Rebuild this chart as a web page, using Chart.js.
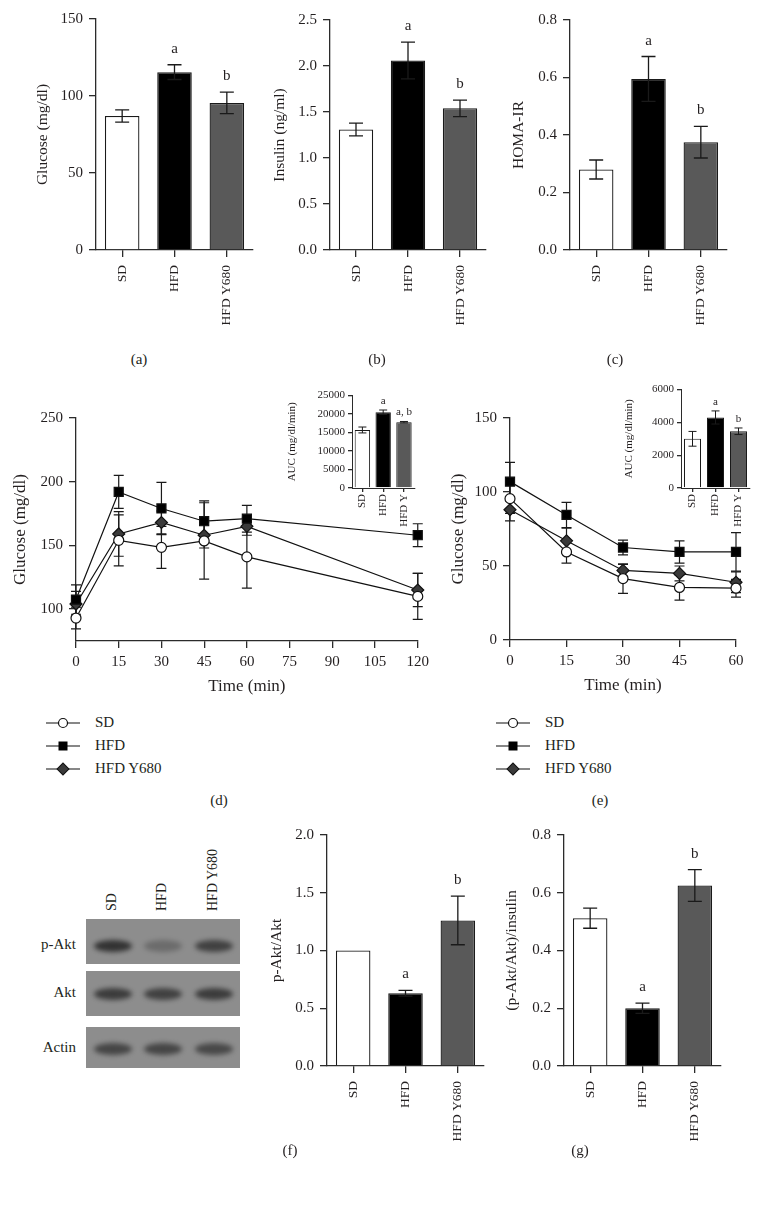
<!DOCTYPE html>
<html>
<head>
<meta charset="utf-8">
<script src="https://cdn.jsdelivr.net/npm/chart.js@4.4.1/dist/chart.umd.min.js"></script>
<style>
  body { margin: 0; background: #fff; width: 759px; height: 1208px; position: relative; overflow: hidden;
         font-family: "Liberation Serif", "DejaVu Serif", serif; color: #231f20; }
  canvas { position: absolute; }
  .plabel { position: absolute; font-size: 15px; transform: translate(-50%, -50%); white-space: nowrap; }
  .legend { position: absolute; font-size: 15px; }
  .legend .row { height: 23px; display: flex; align-items: center; }
  .legend svg { margin-right: 15px; }
  .blot { position: absolute; background: #8d8d8d; overflow: hidden; }
  .band { position: absolute; border-radius: 50%; background: #2e2e2e; filter: blur(2.5px); }
  .rowlab { position: absolute; font-size: 15px; transform: translate(-100%, -50%); white-space: nowrap; }
  .collab { position: absolute; font-size: 14px; transform-origin: 0 0; transform: rotate(-90deg); white-space: nowrap; }
</style>
</head>
<body>
<canvas id="chartA"></canvas>
<canvas id="chartB"></canvas>
<canvas id="chartC"></canvas>
<canvas id="chartD"></canvas>
<canvas id="chartE"></canvas>
<canvas id="insetD"></canvas>
<canvas id="insetE"></canvas>
<canvas id="chartF"></canvas>
<canvas id="chartG"></canvas>

<div class="plabel" style="left:139px;top:359px">(a)</div>
<div class="plabel" style="left:377px;top:359px">(b)</div>
<div class="plabel" style="left:615px;top:359px">(c)</div>
<div class="plabel" style="left:219px;top:800px">(d)</div>
<div class="plabel" style="left:600px;top:800px">(e)</div>
<div class="plabel" style="left:290px;top:1150px">(f)</div>
<div class="plabel" style="left:580px;top:1150px">(g)</div>

<div id="legendD" class="legend" style="left:46px;top:711px"></div>
<div id="legendE" class="legend" style="left:496px;top:711px"></div>
<div id="blot"></div>

<script>
// groups and values
const groups = ['SD', 'HFD', 'HFD Y680'];
const aucGroups = ['SD', 'HFD', 'HFD Y'];
const barColors = ['#ffffff', '#000000', '#595959'];

const glucoseMean = [87, 115.5, 95.5];
const glucoseErr = [4, 4.8, 7];
const glucoseMarks = ['', 'a', 'b'];
const glucoseTicks = [0, 50, 100, 150];

const insulinMean = [1.31, 2.06, 1.54];
const insulinErr = [0.07, 0.2, 0.09];
const insulinMarks = ['', 'a', 'b'];
const insulinTicks = [0, 0.5, 1.0, 1.5, 2.0, 2.5];

const homaMean = [0.28, 0.595, 0.375];
const homaErr = [0.033, 0.078, 0.055];
const homaMarks = ['', 'a', 'b'];
const homaTicks = [0, 0.2, 0.4, 0.6, 0.8];

// OGTT (d)
const ogttTime = [0, 15, 30, 45, 60, 120];
const ogttSD = [93, 154, 148.5, 153.5, 141, 110];
const ogttSDErr = [8.5, 20, 16.5, 30, 24.5, 18];
const ogttHFD = [107.5, 192, 179, 169, 171, 158];
const ogttHFDErr = [11.5, 13, 20.5, 16, 10.5, 9];
const ogttY680 = [104, 159, 168, 158, 165, 115];
const ogttY680Err = [10, 17.5, 9, 10, 7, 13];
const ogttYTicks = [100, 150, 200, 250];
const ogttXTicks = [0, 15, 30, 45, 60, 75, 90, 105, 120];
const ogttAuc = [15700, 20500, 17800];
const ogttAucErr = [800, 600, 200];
const ogttAucMarks = ['', 'a', 'a, b'];
const ogttAucTicks = [0, 5000, 10000, 15000, 20000, 25000];

// ITT (e)
const ittTime = [0, 15, 30, 45, 60];
const ittSD = [95.5, 59.5, 41.5, 35.5, 35];
const ittSDErr = [10, 7.5, 10, 8.5, 6];
const ittHFD = [107, 84.5, 62.5, 59.5, 59.5];
const ittHFDErr = [13, 8.5, 5, 7.5, 13];
const ittY680 = [88, 67, 47, 45, 39];
const ittY680Err = [7.5, 8.5, 4, 5, 7];
const ittYTicks = [0, 50, 100, 150];
const ittXTicks = [0, 15, 30, 45, 60];
const ittAuc = [3000, 4300, 3460];
const ittAucErr = [450, 400, 200];
const ittAucMarks = ['', 'a', 'b'];
const ittAucTicks = [0, 2000, 4000, 6000];

// western blot quantification (f), (g)
const pAktMean = [1.0, 0.63, 1.26];
const pAktErr = [0, 0.025, 0.21];
const pAktMarks = ['', 'a', 'b'];
const pAktTicks = [0, 0.5, 1.0, 1.5, 2.0];
const pAktInsMean = [0.512, 0.2, 0.625];
const pAktInsErr = [0.035, 0.018, 0.055];
const pAktInsMarks = ['', 'a', 'b'];
const pAktInsTicks = [0, 0.2, 0.4, 0.6, 0.8];

const blotRows = ['p-Akt', 'Akt', 'Actin'];
const blotIntensity = [[0.95, 0.35, 0.8], [0.85, 0.8, 0.85], [0.75, 0.75, 0.72]];

const AXIS = '#2b2b2b';
const FONT = 'Liberation Serif';
const TEXT = '#231f20';

// error bars + letters drawn with the chart's own y scale
const errorBars = {
  id: 'errorBars',
  beforeDatasetsDraw(chart, args, opts) {
    if (opts.layer === 'before') drawErrors(chart, opts);
  },
  afterDatasetsDraw(chart, args, opts) {
    if (opts.layer !== 'before') drawErrors(chart, opts);
    drawMarks(chart, opts);
  }
};

function valueOf(d) { return typeof d === 'object' ? d.y : d; }

function drawErrors(chart, opts) {
  const ctx = chart.ctx, ys = chart.scales.y;
  ctx.save();
  ctx.strokeStyle = opts.color || '#1a1a1a';
  ctx.lineWidth = opts.width || 1.3;
  chart.data.datasets.forEach((ds, di) => {
    if (!ds.err) return;
    chart.getDatasetMeta(di).data.forEach((el, i) => {
      const e = ds.err[i];
      if (!e) return;
      const v = valueOf(ds.data[i]);
      const y1 = ys.getPixelForValue(v + e), y2 = ys.getPixelForValue(v - e);
      const c = opts.cap;
      ctx.beginPath();
      ctx.moveTo(el.x, y1); ctx.lineTo(el.x, y2);
      ctx.moveTo(el.x - c, y1); ctx.lineTo(el.x + c, y1);
      ctx.moveTo(el.x - c, y2); ctx.lineTo(el.x + c, y2);
      ctx.stroke();
    });
  });
  ctx.restore();
}

function drawMarks(chart, opts) {
  const ctx = chart.ctx, ys = chart.scales.y;
  ctx.save();
  ctx.fillStyle = TEXT;
  ctx.font = (opts.markSize || 15) + 'px "' + FONT + '"';
  ctx.textAlign = 'center';
  ctx.textBaseline = 'alphabetic';
  chart.data.datasets.forEach((ds, di) => {
    if (!ds.marks) return;
    chart.getDatasetMeta(di).data.forEach((el, i) => {
      if (!ds.marks[i]) return;
      const v = valueOf(ds.data[i]) + (ds.err ? ds.err[i] : 0);
      ctx.fillText(ds.marks[i], el.x, ys.getPixelForValue(v) - opts.markGap);
    });
  });
  ctx.restore();
}

function place(id, box) {
  const c = document.getElementById(id);
  const left = Math.round(box.left - box.yW);
  const top = Math.round(box.top - box.padT);
  const right = Math.round(box.right + box.padR);
  const bottom = Math.round(box.bottom + box.xH);
  c.width = right - left;
  c.height = bottom - top;
  c.style.left = left + 'px';
  c.style.top = top + 'px';
  return {
    canvas: c,
    yW: Math.round(box.left) - left,
    padT: Math.round(box.top) - top,
    padR: right - Math.round(box.right),
    xH: bottom - Math.round(box.bottom)
  };
}

function axisGrid(len) {
  return { display: true, drawOnChartArea: false, drawTicks: true, tickLength: len, color: AXIS, lineWidth: 1.3 };
}

function barChart(id, box, cfg) {
  const p = place(id, box);
  const s = cfg.small;
  const tickSize = s ? 11 : 15;
  new Chart(p.canvas, {
    type: 'bar',
    data: {
      labels: cfg.labels,
      datasets: [{
        data: cfg.mean,
        err: cfg.err,
        marks: cfg.marks,
        backgroundColor: barColors,
        borderColor: '#1a1a1a',
        borderWidth: s ? 1 : 1.3,
        barPercentage: s ? 0.74 : 0.66,
        categoryPercentage: 1
      }]
    },
    options: {
      responsive: false,
      animation: false,
      devicePixelRatio: 1,
      layout: { padding: { left: 0, top: p.padT, right: p.padR, bottom: 0 } },
      plugins: {
        legend: { display: false },
        tooltip: { enabled: false },
        errorBars: { cap: s ? 4 : 7, width: s ? 1 : 1.3, markGap: s ? 6 : 12, markSize: s ? 11 : 15 }
      },
      scales: {
        x: {
          offset: true,
          grid: Object.assign(axisGrid(s ? 4 : 7), { offset: false }),
          border: { display: true, color: AXIS, width: s ? 1 : 1.3 },
          ticks: { autoSkip: false, minRotation: 90, maxRotation: 90, padding: s ? 2 : 8,
                   color: TEXT, font: { family: FONT, size: s ? 11 : 13.5 } },
          afterFit: sc => { sc.height = p.xH; }
        },
        y: {
          min: cfg.ticks[0],
          max: cfg.ticks[cfg.ticks.length - 1],
          afterBuildTicks: sc => { sc.ticks = cfg.ticks.map(v => ({ value: v })); },
          grid: axisGrid(s ? 4 : 7),
          border: { display: true, color: AXIS, width: s ? 1 : 1.3 },
          ticks: { padding: s ? 3 : 6, color: TEXT, font: { family: FONT, size: tickSize },
                   callback: v => v.toFixed(cfg.decimals || 0) },
          title: { display: true, text: cfg.title, color: TEXT, padding: 0,
                   font: { family: FONT, size: s ? 11 : 15.5 } },
          afterFit: sc => { sc.width = p.yW; }
        }
      }
    },
    plugins: [errorBars]
  });
}

function series(xs, ys) { return xs.map((x, i) => ({ x: x, y: ys[i] })); }

function lineDataset(label, xs, ys, err, style) {
  return Object.assign({
    label: label,
    data: series(xs, ys),
    err: err,
    borderColor: '#111',
    borderWidth: 1.2,
    tension: 0,
    clip: false,
    pointBorderColor: '#111',
    pointBorderWidth: 1.2
  }, style);
}

const styleSD = { pointStyle: 'circle', pointRadius: 5, pointBackgroundColor: '#fff', order: 1 };
const styleHFD = { pointStyle: 'rect', pointRadius: 6.4, pointBackgroundColor: '#000', order: 2 };
const styleY680 = { pointStyle: 'rectRot', pointRadius: 6, pointBackgroundColor: '#3a3a3a', order: 3 };

function lineChart(id, box, cfg) {
  const p = place(id, box);
  new Chart(p.canvas, {
    type: 'line',
    data: {
      datasets: [
        lineDataset('SD', cfg.x, cfg.sd, cfg.sdErr, styleSD),
        lineDataset('HFD', cfg.x, cfg.hfd, cfg.hfdErr, styleHFD),
        lineDataset('HFD Y680', cfg.x, cfg.y680, cfg.y680Err, styleY680)
      ]
    },
    options: {
      responsive: false,
      animation: false,
      devicePixelRatio: 1,
      layout: { padding: { left: 0, top: p.padT, right: p.padR, bottom: 0 } },
      plugins: {
        legend: { display: false },
        tooltip: { enabled: false },
        errorBars: { layer: 'before', cap: 5, width: 1.2, markGap: 0 }
      },
      scales: {
        x: {
          type: 'linear',
          min: cfg.xTicks[0],
          max: cfg.xTicks[cfg.xTicks.length - 1],
          afterBuildTicks: sc => { sc.ticks = cfg.xTicks.map(v => ({ value: v })); },
          grid: axisGrid(7),
          border: { display: true, color: AXIS, width: 1.3 },
          ticks: { padding: 5, color: TEXT, font: { family: FONT, size: 15 } },
          title: { display: true, text: 'Time (min)', color: TEXT, padding: 0,
                   font: { family: FONT, size: 17 } },
          afterFit: sc => { sc.height = p.xH; }
        },
        y: {
          min: cfg.yMin,
          max: cfg.yTicks[cfg.yTicks.length - 1],
          afterBuildTicks: sc => { sc.ticks = cfg.yTicks.map(v => ({ value: v })); },
          grid: axisGrid(7),
          border: { display: true, color: AXIS, width: 1.3 },
          ticks: { padding: 6, color: TEXT, font: { family: FONT, size: 15 } },
          title: { display: true, text: 'Glucose (mg/dl)', color: TEXT, padding: 0,
                   font: { family: FONT, size: 17 } },
          afterFit: sc => { sc.width = p.yW; }
        }
      }
    },
    plugins: [errorBars]
  });
}

// (a) (b) (c)
barChart('chartA', { left: 96, top: 16, right: 253, bottom: 249.5, yW: 62, padT: 12, padR: 10, xH: 80 },
  { labels: groups, mean: glucoseMean, err: glucoseErr, marks: glucoseMarks, ticks: glucoseTicks, title: 'Glucose (mg/dl)' });
barChart('chartB', { left: 330, top: 16.5, right: 486, bottom: 250, yW: 59, padT: 12, padR: 10, xH: 80 },
  { labels: groups, mean: insulinMean, err: insulinErr, marks: insulinMarks, ticks: insulinTicks, decimals: 1, title: 'Insulin (ng/ml)' });
barChart('chartC', { left: 570, top: 16.5, right: 726.5, bottom: 250, yW: 60.5, padT: 12, padR: 10, xH: 80 },
  { labels: groups, mean: homaMean, err: homaErr, marks: homaMarks, ticks: homaTicks, decimals: 1, title: 'HOMA-IR' });

// (d) (e)
lineChart('chartD', { left: 76, top: 415, right: 418, bottom: 640.5, yW: 66, padT: 12, padR: 16, xH: 56 },
  { x: ogttTime, sd: ogttSD, sdErr: ogttSDErr, hfd: ogttHFD, hfdErr: ogttHFDErr, y680: ogttY680, y680Err: ogttY680Err,
    xTicks: ogttXTicks, yTicks: ogttYTicks, yMin: 75 });
lineChart('chartE', { left: 510, top: 415, right: 736, bottom: 640, yW: 62, padT: 12, padR: 14, xH: 56 },
  { x: ittTime, sd: ittSD, sdErr: ittSDErr, hfd: ittHFD, hfdErr: ittHFDErr, y680: ittY680, y680Err: ittY680Err,
    xTicks: ittXTicks, yTicks: ittYTicks, yMin: 0 });

barChart('insetD', { left: 352, top: 394, right: 415, bottom: 488.3, yW: 66, padT: 8, padR: 5, xH: 42 },
  { small: true, labels: aucGroups, mean: ogttAuc, err: ogttAucErr, marks: ogttAucMarks, ticks: ogttAucTicks, title: 'AUC (mg/dl/min)' });
barChart('insetE', { left: 681.3, top: 387.7, right: 749.5, bottom: 487.7, yW: 58, padT: 8, padR: 5, xH: 42 },
  { small: true, labels: aucGroups, mean: ittAuc, err: ittAucErr, marks: ittAucMarks, ticks: ittAucTicks, title: 'AUC (mg/dl/min)' });

// (f) (g) bars
barChart('chartF', { left: 327.3, top: 832.3, right: 484, bottom: 1065.7, yW: 59, padT: 12, padR: 10, xH: 80 },
  { labels: groups, mean: pAktMean, err: pAktErr, marks: pAktMarks, ticks: pAktTicks, decimals: 1, title: 'p-Akt/Akt' });
barChart('chartG', { left: 564, top: 832.3, right: 720.6, bottom: 1065.7, yW: 61, padT: 12, padR: 10, xH: 80 },
  { labels: groups, mean: pAktInsMean, err: pAktInsErr, marks: pAktInsMarks, ticks: pAktInsTicks, decimals: 1, title: '(p-Akt/Akt)/insulin' });

// legends for (d) and (e)
function markerSvg(i) {
  const shapes = [
    '<circle cx="17" cy="7" r="4.5" fill="#fff" stroke="#111" stroke-width="1.2"/>',
    '<rect x="12.5" y="2.5" width="9" height="9" fill="#000"/>',
    '<rect x="12.8" y="2.8" width="8.4" height="8.4" fill="#3a3a3a" stroke="#111" transform="rotate(45 17 7)"/>'
  ];
  return '<svg width="34" height="14"><line x1="0" y1="7" x2="34" y2="7" stroke="#111" stroke-width="1.2"/>' + shapes[i] + '</svg>';
}
['legendD', 'legendE'].forEach(id => {
  document.getElementById(id).innerHTML = groups.map((g, i) =>
    '<div class="row">' + markerSvg(i) + '<span>' + g + '</span></div>').join('');
});

// western blot picture for (f)
const blot = document.getElementById('blot');
const panels = [{ top: 919, h: 45, band: 27 }, { top: 971, h: 45, band: 23 }, { top: 1027, h: 41, band: 22 }];
const laneX = [112.5, 162.5, 213.5];
let html = '';
panels.forEach((pn, r) => {
  html += '<div class="blot" style="left:86px;top:' + pn.top + 'px;width:154px;height:' + pn.h + 'px">';
  laneX.forEach((x, l) => {
    html += '<div class="band" style="left:' + (x - 86 - 19) + 'px;top:' + (pn.band - 6) + 'px;width:38px;height:12px;opacity:' +
      blotIntensity[r][l] + '"></div>';
  });
  html += '</div>';
  html += '<div class="rowlab" style="left:76px;top:' + (pn.top + pn.band - 2) + 'px">' + blotRows[r] + '</div>';
});
groups.forEach((g, i) => {
  html += '<div class="collab" style="left:' + (laneX[i] - 9) + 'px;top:911px">' + g + '</div>';
});
blot.innerHTML = html;
</script>
</body>
</html>
